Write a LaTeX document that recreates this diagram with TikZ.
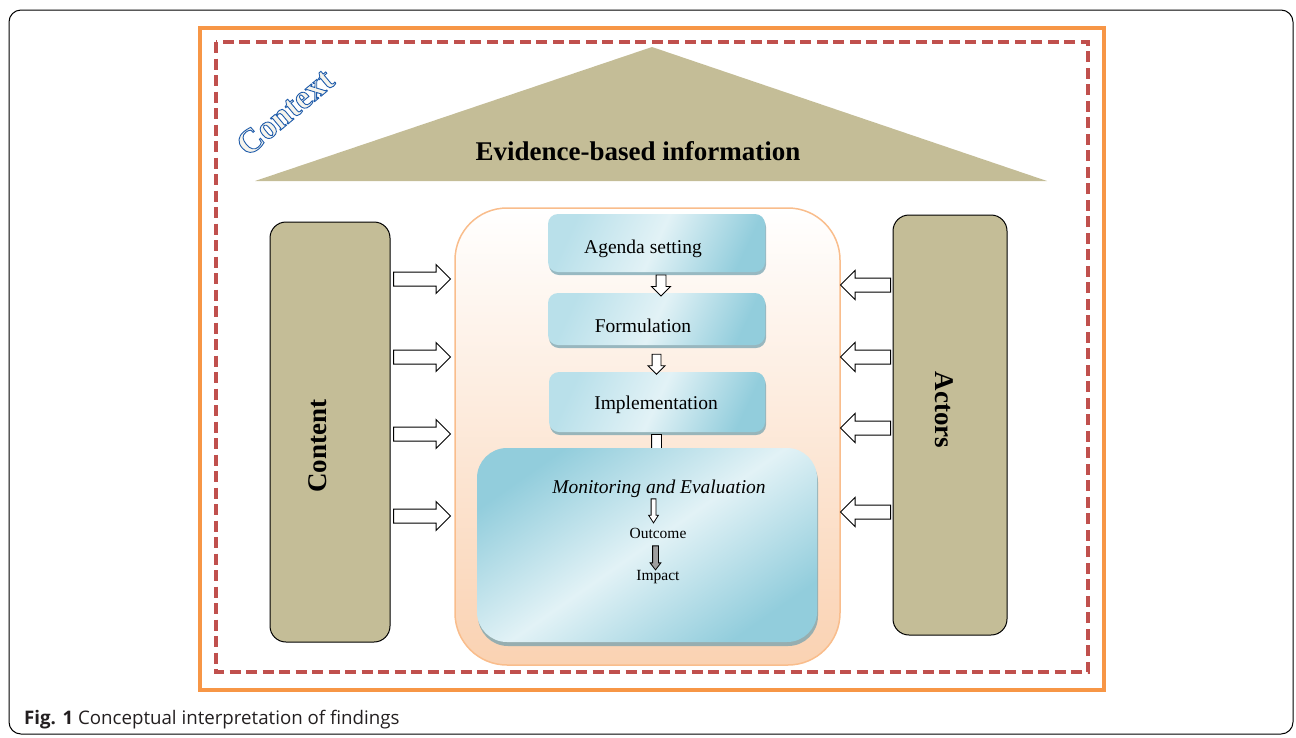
\documentclass[tikz,border=0pt]{standalone}
\usepackage{fontspec}
\setmainfont{Liberation Serif}
\newfontfamily\capfont{Open Sans}
\usetikzlibrary{shapes.arrows,shadows,calc}
\definecolor{orangeF}{HTML}{F79646}
\definecolor{redD}{HTML}{C0504D}
\definecolor{tanC}{HTML}{C4BD97}
\definecolor{bdark}{HTML}{92CDDC}
\definecolor{bmid}{HTML}{B9E0EA}
\definecolor{blight}{HTML}{E2F2F6}
\definecolor{peach}{HTML}{FAD2B2}
\definecolor{peachline}{HTML}{F9BD8C}
\definecolor{ivoryC}{HTML}{F6F4EC}
\definecolor{shadowblue}{HTML}{6E9FAE}
\definecolor{captxt}{HTML}{231F20}
\begin{document}
\begin{tikzpicture}[x=1pt,y=-1pt,
  tanbox/.style={draw=black, line width=1pt, fill=tanC, rounded corners=16pt, inner sep=0pt},
  bluebox/.style={rounded corners=10pt, inner sep=0pt, left color=bmid, right color=bdark, middle color=blight, shading angle=65,
     drop shadow={shadow xshift=1pt, shadow yshift=-3pt, fill=shadowblue, opacity=0.7}},
  stagetxt/.style={font=\fontsize{19.5}{22}\selectfont, inner sep=0pt},
  smalltxt/.style={font=\fontsize{15.5}{17}\selectfont, inner sep=0pt},
  sidetxt/.style={font=\bfseries\fontsize{27}{30}\selectfont, inner sep=0pt},
  barrow/.style={single arrow, draw=black, line width=1pt, fill=white, inner sep=6.5pt, single arrow head extend=7.5pt, single arrow head indent=0pt},
  sarrow/.style={single arrow, draw=black, line width=0.9pt, fill=white, single arrow head indent=0pt, shape border rotate=270},
]
\useasboundingbox (0,0) rectangle (1296,737);
% outer frame
\draw[black, line width=1pt, rounded corners=12pt] (9,10) rectangle (1293,734);
\draw[orangeF, line width=3.5pt] (200,28) rectangle (1104,690);
\draw[redD, line width=3.5pt, dash pattern=on 11pt off 5.5pt] (216,42) rectangle (1088,672);
% roof
\fill[tanC] (652,47) -- (1047,181) -- (255,181) -- cycle;
\node[font=\bfseries\fontsize{27}{30}\selectfont, inner sep=0pt] (evid) at (638,151) {Evidence-based information};
\node[font=\bfseries\fontsize{34}{36}\selectfont, rotate=40, inner sep=0pt] (ctx) at (285,112)
  {\color{ivoryC}\special{pdf:code 2 Tr 0.9 w 0.12 0.36 0.67 RG}Context\special{pdf:code 0 Tr}};
% side boxes
\node[tanbox, minimum width=120pt, minimum height=420pt] (content) at (330,432) {};
\node[sidetxt, rotate=90] (contentT) at (318,446) {Content};
\node[tanbox, minimum width=114pt, minimum height=420pt] (actors) at (950,425) {};
\node[sidetxt, rotate=-90] (actorsT) at (944,410) {Actors};
% policy cycle container
\node[draw=peachline, line width=1.5pt, rounded corners=52pt, top color=white, bottom color=peach, minimum width=385pt, minimum height=457pt, inner sep=0pt] (cycle) at (647.5,436.5) {};
% block arrows
\foreach \yy/\nm in {279/l1,357/l2,434/l3,516/l4}{
  \node[barrow, minimum height=57pt] (\nm) at (418.5,\yy) {};
}
\foreach \yy/\nm in {285/r1,357/r2,428/r3,512/r4}{
  \node[barrow, minimum height=50pt, shape border rotate=180] (\nm) at (869,\yy) {};
}
% stages
\node[bluebox, minimum width=217pt, minimum height=58pt] (agenda) at (656.5,243) {};
\node[stagetxt] (agendaT) at (643,249) {Agenda setting};
\node[bluebox, minimum width=217pt, minimum height=52pt] (form) at (656.5,319) {};
\node[stagetxt] (formT) at (643,326) {Formulation};
\node[bluebox, minimum width=216pt, minimum height=60pt] (impl) at (657,402) {};
\node[stagetxt] (implT) at (656,405) {Implementation};
\node[sarrow, inner sep=4.5pt, single arrow head extend=4.5pt, minimum height=21pt] (a1) at (661,283) {};
\node[sarrow, inner sep=4pt, single arrow head extend=4pt, minimum height=20pt] (a2) at (656.5,362) {};
\node[sarrow, inner sep=4.5pt, single arrow head extend=4pt, minimum height=24pt] (a3) at (656.5,444) {};
% M&E
\node[rounded corners=30pt, inner sep=0pt, minimum width=340pt, minimum height=194pt,
      left color=bdark, right color=bdark, middle color=blight, shading angle=35,
      drop shadow={shadow xshift=1pt, shadow yshift=-4pt, fill=shadowblue, opacity=0.7}] (me) at (647,545) {};
\node[font=\itshape\fontsize{19.5}{22}\selectfont, inner sep=0pt] (meT) at (659,489) {Monitoring and Evaluation};
\node[sarrow, line width=0.8pt, inner sep=2pt, single arrow head extend=2.5pt, single arrow tip angle=65, minimum height=24pt] (a4) at (653.5,509) {};
\node[smalltxt] (outT) at (658,533) {Outcome};
\node[sarrow, line width=0.8pt, fill=gray!75, inner sep=2.5pt, single arrow head extend=2.5pt, single arrow tip angle=75, minimum height=24pt] (a5) at (655.5,556) {};
\node[smalltxt] (impT) at (658,577) {Impact};
% caption
\node[anchor=base west, inner sep=0pt, text=captxt, font=\capfont\fontsize{18.7}{22}\selectfont] (cap) at (24,724) {\textbf{Fig. 1} Conceptual interpretation of findings};
\end{tikzpicture}
\end{document}
